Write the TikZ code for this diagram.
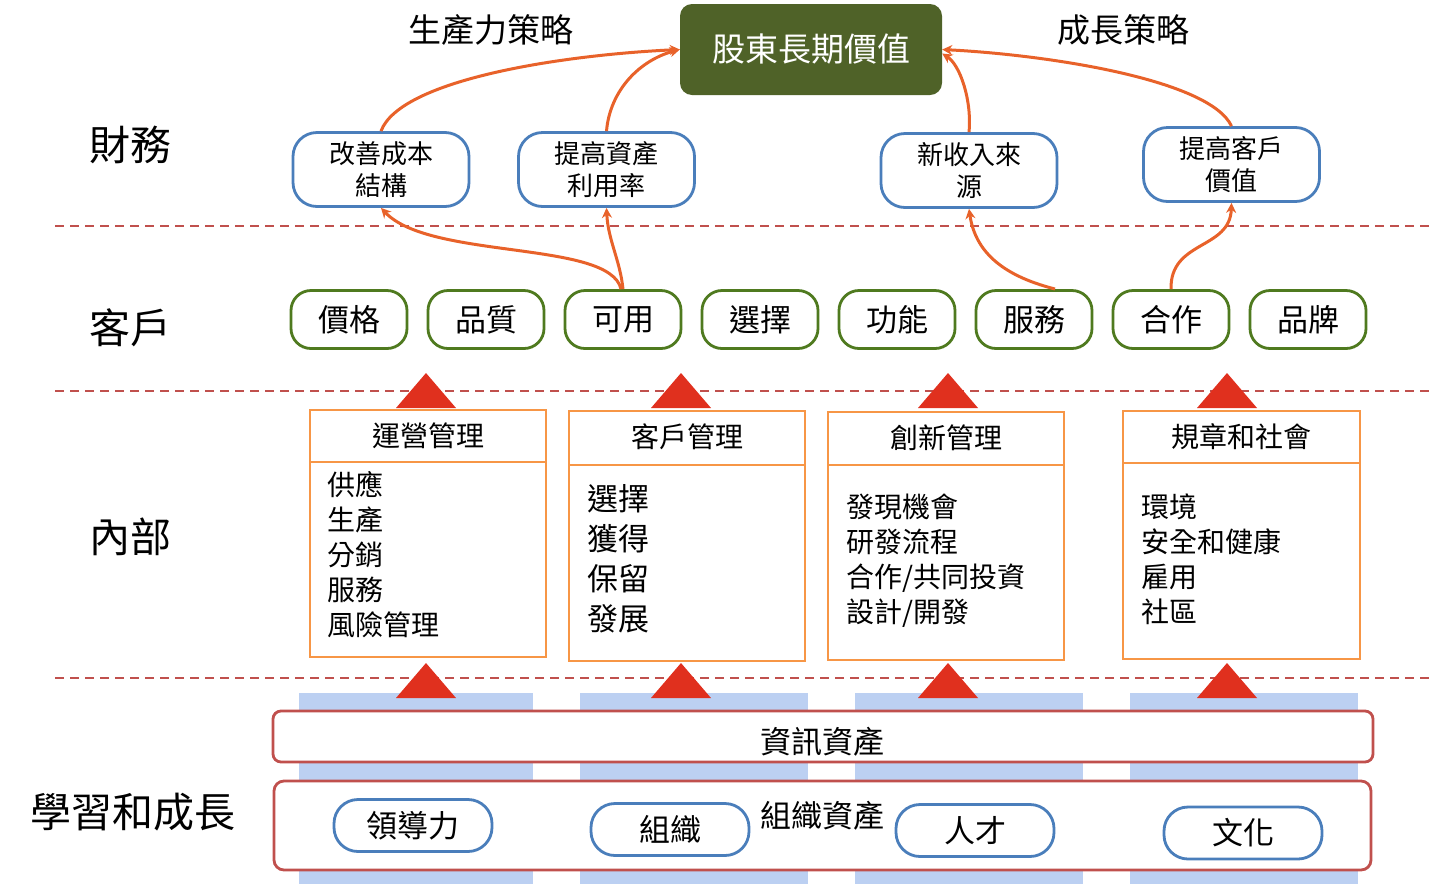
\documentclass[tikz,border=0pt]{standalone}
\usepackage{fontspec}
\setmainfont{Noto Sans CJK TC}
\usetikzlibrary{arrows.meta}
\definecolor{dg}{HTML}{4F6228}
\definecolor{bl}{HTML}{4A7EBB}
\definecolor{gr}{HTML}{4F7A1F}
\definecolor{og}{HTML}{F79646}
\definecolor{rd}{HTML}{E0301E}
\definecolor{ar}{HTML}{E8622A}
\definecolor{lb}{HTML}{BCD0F2}
\definecolor{br}{HTML}{C0504D}
\begin{document}
\begin{tikzpicture}[x=1pt,y=-1pt,
 fin/.style={draw=bl,line width=2.8pt,rounded corners=24pt,fill=white,minimum width=176pt,minimum height=74pt,align=center,font=\fontsize{26}{32}\selectfont},
 cus/.style={draw=gr,line width=2.8pt,rounded corners=20pt,fill=white,minimum width=116pt,minimum height=58pt,font=\fontsize{31}{34}\selectfont},
 lrn/.style={draw=bl,line width=2.8pt,rounded corners=24pt,fill=white,minimum width=158pt,minimum height=52pt,font=\fontsize{31}{34}\selectfont},
 lab/.style={font=\fontsize{41}{44}\selectfont},
 box/.style={draw=og,line width=2.8pt},
 tri/.style={fill=rd},
 lbr/.style={fill=lb},
 arr/.style={draw=ar,line width=3pt,-{Stealth[length=10pt,width=10pt]}},
 dsh/.style={draw=br,line width=2.5pt,dash pattern=on 9pt off 6pt},
 it/.style={anchor=north west,align=left,font=\fontsize{28}{35}\selectfont}]
\useasboundingbox (0,0) rectangle (1431,887);
\draw[dsh] (55,226) -- (1431,226);
\draw[dsh] (55,391) -- (1431,391);
\draw[dsh] (55,678) -- (1431,678);
\fill[lbr] (299,693) rectangle (533,884);
\fill[lbr] (580,693) rectangle (808,884);
\fill[lbr] (855,693) rectangle (1083,884);
\fill[lbr] (1130,693) rectangle (1358,884);
\node[fill=dg,rounded corners=12pt,minimum width=262pt,minimum height=91pt,text=white,font=\fontsize{33}{36}\selectfont] (top) at (811,49.5) {股東長期價值};
\node[font=\fontsize{33}{36}\selectfont] (t1) at (491,30) {生產力策略};
\node[font=\fontsize{33}{36}\selectfont] (t2) at (1123,30) {成長策略};
\node[lab] (l1) at (130,145) {財務};
\node[lab] (l2) at (130,328) {客戶};
\node[lab] (l3) at (130,537) {內部};
\node[lab] (l4) at (133,812) {學習和成長};
\node[fin] (f1) at (381,169.5) {改善成本\\結構};
\node[fin] (f2) at (606.5,169.5) {提高資產\\利用率};
\node[fin] (f3) at (969,170.5) {新收入來\\源};
\node[fin] (f4) at (1231.5,164.5) {提高客戶\\價值};
\foreach \n/\x/\t in {c1/349/價格,c2/486/品質,c3/623/可用,c4/760/選擇,c5/897/功能,c6/1034/服務,c7/1171/合作,c8/1308/品牌}
  \node[cus] (\n) at (\x,319.5) {\t};
\draw[arr] (f1.north) .. controls (400,80) and (560,55) .. (top.west);
\draw[arr] (f2.north) .. controls (610,90) and (640,60) .. (top.west);
\draw[arr] (f3.north) .. controls (972,100) and (960,65) .. ([yshift=-4pt]top.east);
\draw[arr] (f4.north) .. controls (1210,80) and (1050,55) .. (top.east);
\draw[arr] ([xshift=-2pt]c3.north) .. controls (610,240) and (430,260) .. (f1.south);
\draw[arr] (c3.north) .. controls (620,260) and (608,240) .. (f2.south);
\draw[arr] (1055,289) .. controls (1000,275) and (975,250) .. (f3.south);
\draw[arr] (c7.north) .. controls (1170,240) and (1230,250) .. (f4.south);
\foreach \x in {426,681,948,1227}{
  \fill[tri] (\x-30,408) -- (\x,373) -- (\x+30,408) -- cycle;
  \fill[tri] (\x-30,698) -- (\x,663) -- (\x+30,698) -- cycle;}
\draw[box] (310,410) rectangle (546,657); \draw[box] (310,462) -- (546,462);
\node[font=\fontsize{28}{32}\selectfont] (h1) at (428,436) {運營管理};
\node[it] (b1) at (324,468) {供應\\生產\\分銷\\服務\\風險管理};
\draw[box] (569,411) rectangle (805,661); \draw[box] (569,465) -- (805,465);
\node[font=\fontsize{28}{32}\selectfont] (h2) at (687,437) {客戶管理};
\node[it,font=\fontsize{31}{40}\selectfont] (b2) at (584,481) {選擇\\獲得\\保留\\發展};
\draw[box] (828,412) rectangle (1064,660); \draw[box] (828,465) -- (1064,465);
\node[font=\fontsize{28}{32}\selectfont] (h3) at (946,438) {創新管理};
\node[it] (b3) at (843,490) {發現機會\\研發流程\\合作/共同投資\\設計/開發};
\draw[box] (1123,411) rectangle (1360,659); \draw[box] (1123,463) -- (1360,463);
\node[font=\fontsize{28}{32}\selectfont] (h4) at (1241,437) {規章和社會};
\node[it] (b4) at (1138,490) {環境\\安全和健康\\雇用\\社區};
\draw[draw=br,line width=2.8pt,fill=white,rounded corners=8pt] (273,711) rectangle (1373,762);
\node[font=\fontsize{31}{34}\selectfont] (ia) at (822,742) {資訊資產};
\draw[draw=br,line width=2.8pt,fill=white,rounded corners=10pt] (274,781) rectangle (1371,870);
\node[font=\fontsize{31}{34}\selectfont] (oa) at (822,816) {組織資產};
\node[lrn] (g1) at (413,825.5) {領導力};
\node[lrn] (g2) at (670,829.5) {組織};
\node[lrn] (g3) at (975,830.5) {人才};
\node[lrn] (g4) at (1243,833) {文化};
\end{tikzpicture}
\end{document}
